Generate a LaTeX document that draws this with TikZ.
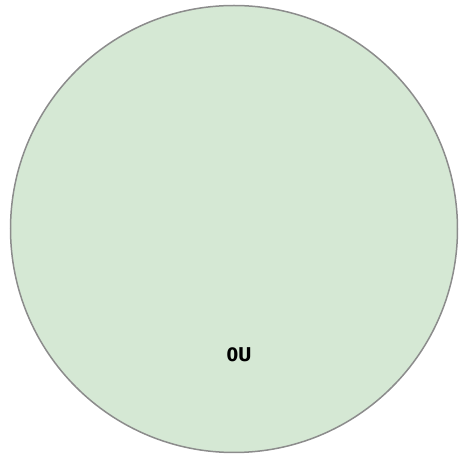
\documentclass[tikz,border=0pt]{standalone}
\usepackage{fontspec}
\setmainfont{Fira Sans}
\begin{document}
\begin{tikzpicture}[x=1pt,y=1pt,
  blob/.style={circle,draw=black!45,line width=1.5pt,minimum size=447pt,inner sep=0pt},
  lbl/.style={font=\fontsize{20}{24}\selectfont\bfseries}]
\definecolor{cfill}{HTML}{D5E8D4}
\useasboundingbox (0,0) rectangle (459,458);
\node[blob,fill=cfill] (c) at (234,229) {};
\node[lbl] (t) at (239,103) {0U};
\end{tikzpicture}
\end{document}
